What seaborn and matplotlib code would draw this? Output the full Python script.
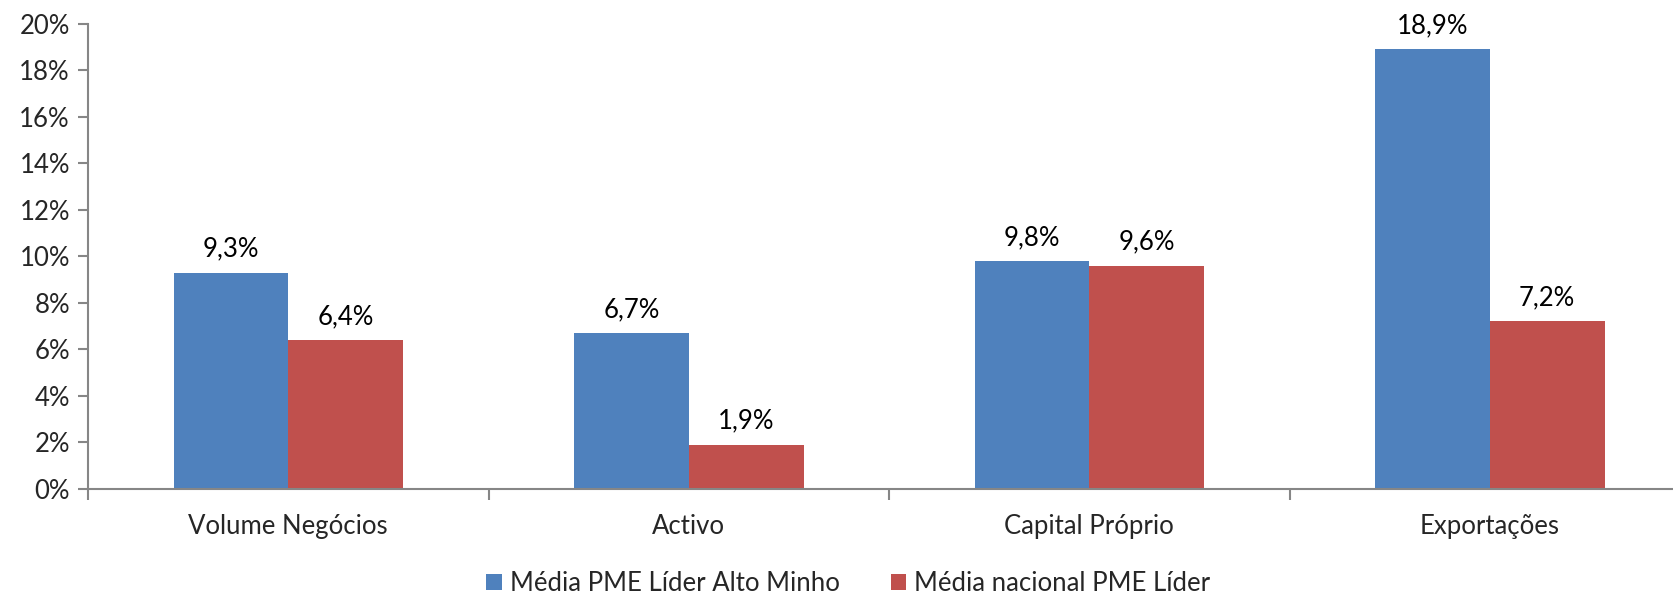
import numpy as np
import pandas as pd
import seaborn as sns
from matplotlib import pyplot as plt
from matplotlib.ticker import FixedLocator

categorias = ["Volume Negócios", "Activo", "Capital Próprio", "Exportações"]
series = ["Média PME Líder Alto Minho", "Média nacional PME Líder"]
alto_minho = [9.3, 6.7, 9.8, 18.9]
nacional = [6.4, 1.9, 9.6, 7.2]
y_ticks = [0, 2, 4, 6, 8, 10, 12, 14, 16, 18, 20]

cores = ["#4F81BD", "#C0504D"]
fs = 18.5

sns.set_theme(style='white')
plt.rcParams['font.family'] = ['Lato', 'DejaVu Sans']

df = pd.DataFrame({
    "categoria": categorias * 2,
    "serie": [series[0]] * 4 + [series[1]] * 4,
    "valor": alto_minho + nacional,
})

fig = plt.figure(figsize=(16.73, 5.96), dpi=100)
ax = fig.add_axes([0.0526, 0.1795, 0.9576, 0.781])

sns.barplot(data=df, x="categoria", y="valor", hue="serie", palette=cores,
            width=0.573, gap=0, saturation=1, linewidth=0, ax=ax, legend=True)

for cont in ax.containers:
    ax.bar_label(cont, labels=[f"{v:.1f}%".replace(".", ",") for v in cont.datavalues],
                 padding=8, fontsize=fs, color="black")

ax.set_xlim(-0.5, 3.5)
ax.set_ylim(0, 20)
ax.set_yticks(y_ticks)
ax.set_yticklabels([f"{t}%" for t in y_ticks], fontsize=fs)
ax.set_xlabel("")
ax.set_ylabel("")

# ticks nos limites das categorias, rótulos ao centro
ax.xaxis.set_minor_locator(FixedLocator(np.arange(-0.5, 4.0, 1.0)))
ax.tick_params(axis='x', which='major', length=0, labelsize=fs, pad=18)
ax.tick_params(axis='x', which='minor', length=8, width=1.5, color='#868686', direction='out', bottom=True)
ax.tick_params(axis='y', which='major', length=7, width=1.5, color='#868686', direction='out', left=True, pad=6)

for s in ['top', 'right']:
    ax.spines[s].set_visible(False)
for s in ['left', 'bottom']:
    ax.spines[s].set_color('#868686')
    ax.spines[s].set_linewidth(1.5)

ax.legend_.remove()
handles, labels = ax.get_legend_handles_labels()
fig.legend(handles[:2], labels[:2], loc='center', bbox_to_anchor=(0.507, 0.021),
           ncol=2, frameon=False, fontsize=fs, handlelength=0.6, handleheight=0.6,
           handletextpad=0.3, columnspacing=2.0)

plt.savefig("out.png", dpi=100)
